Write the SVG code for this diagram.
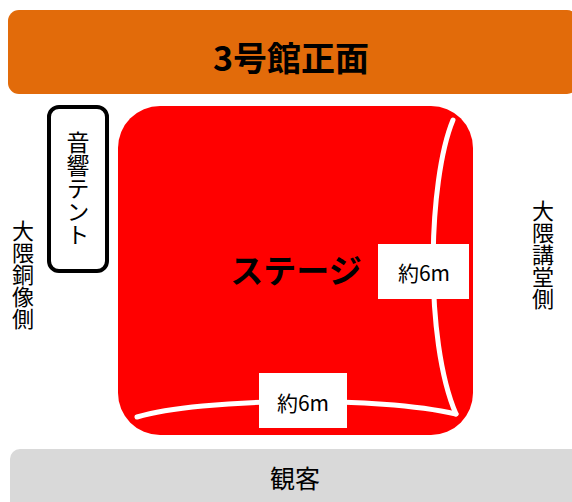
<svg xmlns="http://www.w3.org/2000/svg" width="572" height="502" viewBox="0 0 572 502">
<style>
text{font-family:"Noto Sans CJK JP","Noto Sans",sans-serif;fill:#000}
.v{writing-mode:vertical-rl;text-anchor:middle}
.curve{fill:none;stroke:#fff;stroke-width:5;stroke-linecap:round}
.lbl{fill:#fff}
</style>
<g id="front">
<rect x="8" y="10" width="570" height="84" rx="11" fill="#E26B0A"/>
<text x="291" y="71" font-size="34" font-weight="bold" text-anchor="middle">3号館正面</text>
</g>
<g id="audience">
<rect x="10" y="449" width="575" height="70" rx="10" fill="#D9D9D9"/>
<text x="295" y="488" font-size="25" text-anchor="middle">観客</text>
</g>
<g id="tent">
<rect x="49" y="107" width="58" height="164" rx="10" fill="#fff" stroke="#000" stroke-width="4"/>
<text class="v" x="78" y="188" font-size="23">音響テント</text>
</g>
<g id="left-side">
<text class="v" x="23" y="275" font-size="22">大隈銅像側</text>
</g>
<g id="right-side">
<text class="v" x="543" y="255" font-size="22">大隈講堂側</text>
</g>
<g id="stage">
<rect x="118" y="106" width="355" height="329" rx="42" fill="#FF0000"/>
<text x="296" y="283" font-size="33" font-weight="bold" text-anchor="middle">ステージ</text>
</g>
<g id="dimensions">
<path class="curve" d="M453,120 C428,180 424,340 456,414"/>
<path class="curve" d="M137,417 C200,398 380,396 456,414"/>
<g id="dim-right">
<rect class="lbl" x="378" y="244" width="91" height="55"/>
<text x="424" y="281" font-size="21" text-anchor="middle">約6m</text>
</g>
<g id="dim-bottom">
<rect class="lbl" x="259" y="373" width="88" height="55"/>
<text x="303" y="411" font-size="21" text-anchor="middle">約6m</text>
</g>
</g>
</svg>
